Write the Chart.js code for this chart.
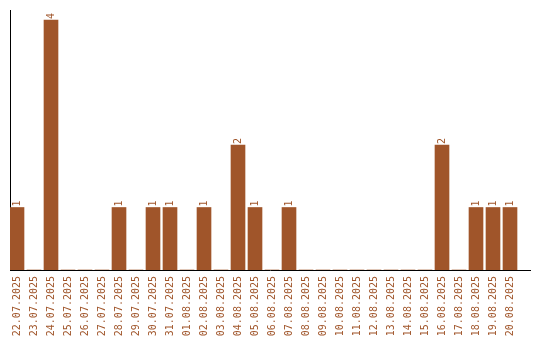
<!DOCTYPE html>
<html>
<head>
<meta charset="utf-8">
<script src="https://cdn.jsdelivr.net/npm/chart.js@4/dist/chart.umd.min.js"></script>
<style>
  html, body { margin: 0; padding: 0; background: #ffffff; }
  #wrap { width: 540px; height: 340px; }
</style>
</head>
<body>
<div id="wrap"><canvas id="c" width="540" height="340"></canvas></div>
<script>
// Daily counts, 22.07.2025 – 20.08.2025
const dates = [
  '22.07.2025', '23.07.2025', '24.07.2025', '25.07.2025', '26.07.2025',
  '27.07.2025', '28.07.2025', '29.07.2025', '30.07.2025', '31.07.2025',
  '01.08.2025', '02.08.2025', '03.08.2025', '04.08.2025', '05.08.2025',
  '06.08.2025', '07.08.2025', '08.08.2025', '09.08.2025', '10.08.2025',
  '11.08.2025', '12.08.2025', '13.08.2025', '14.08.2025', '15.08.2025',
  '16.08.2025', '17.08.2025', '18.08.2025', '19.08.2025', '20.08.2025'
];
const counts = [
  1, 0, 4, 0, 0,
  0, 1, 0, 1, 1,
  0, 1, 0, 2, 1,
  0, 1, 0, 0, 0,
  0, 0, 0, 0, 0,
  2, 0, 1, 1, 1
];

const BAR = '#a0552a';
const FONT = '"DejaVu Sans Mono", "Liberation Mono", monospace';

// Rotated value labels above every non-empty bar
const valueLabels = {
  id: 'valueLabels',
  afterDatasetsDraw(chart) {
    const ctx = chart.ctx;
    const meta = chart.getDatasetMeta(0);
    ctx.save();
    ctx.fillStyle = BAR;
    ctx.font = '10px ' + FONT;
    ctx.textAlign = 'left';
    ctx.textBaseline = 'middle';
    meta.data.forEach((bar, i) => {
      const v = counts[i];
      if (!v) return;
      ctx.save();
      ctx.translate(bar.x, bar.y - 1);
      ctx.rotate(-Math.PI / 2);
      ctx.fillText(String(v), 0, 0);
      ctx.restore();
    });
    ctx.restore();
  }
};

new Chart(document.getElementById('c'), {
  type: 'bar',
  data: {
    datasets: [{
      data: counts.map((v, i) => ({ x: i, y: v })),
      backgroundColor: BAR,
      borderWidth: 0,
      barThickness: 14
    }]
  },
  options: {
    responsive: false,
    animation: false,
    layout: { padding: { top: 10, right: 10, left: 0, bottom: 0 } },
    plugins: { legend: { display: false }, tooltip: { enabled: false } },
    scales: {
      x: {
        type: 'linear',
        offset: false,
        min: -7 / 17,
        max: 520 / 17 - 7 / 17,
        grid: { display: false, drawTicks: false, offset: false },
        border: { display: true, color: '#000000', width: 1 },
        afterBuildTicks(scale) {
          scale.ticks = dates.map((d, i) => ({ value: i }));
        },
        afterFit(scale) {
          scale.height = 70;
          scale.paddingLeft = 0;
          scale.paddingRight = 0;
        },
        ticks: {
          autoSkip: false,
          minRotation: 90,
          maxRotation: 90,
          padding: 6,
          color: BAR,
          font: { family: FONT, size: 10 },
          callback: (v) => dates[v]
        }
      },
      y: {
        min: 0,
        max: 4.16,
        grid: { display: false, drawTicks: false },
        border: { display: true, color: '#000000', width: 1 },
        ticks: { display: false },
        afterFit(scale) { scale.width = 10; }
      }
    }
  },
  plugins: [valueLabels]
});
</script>
</body>
</html>
